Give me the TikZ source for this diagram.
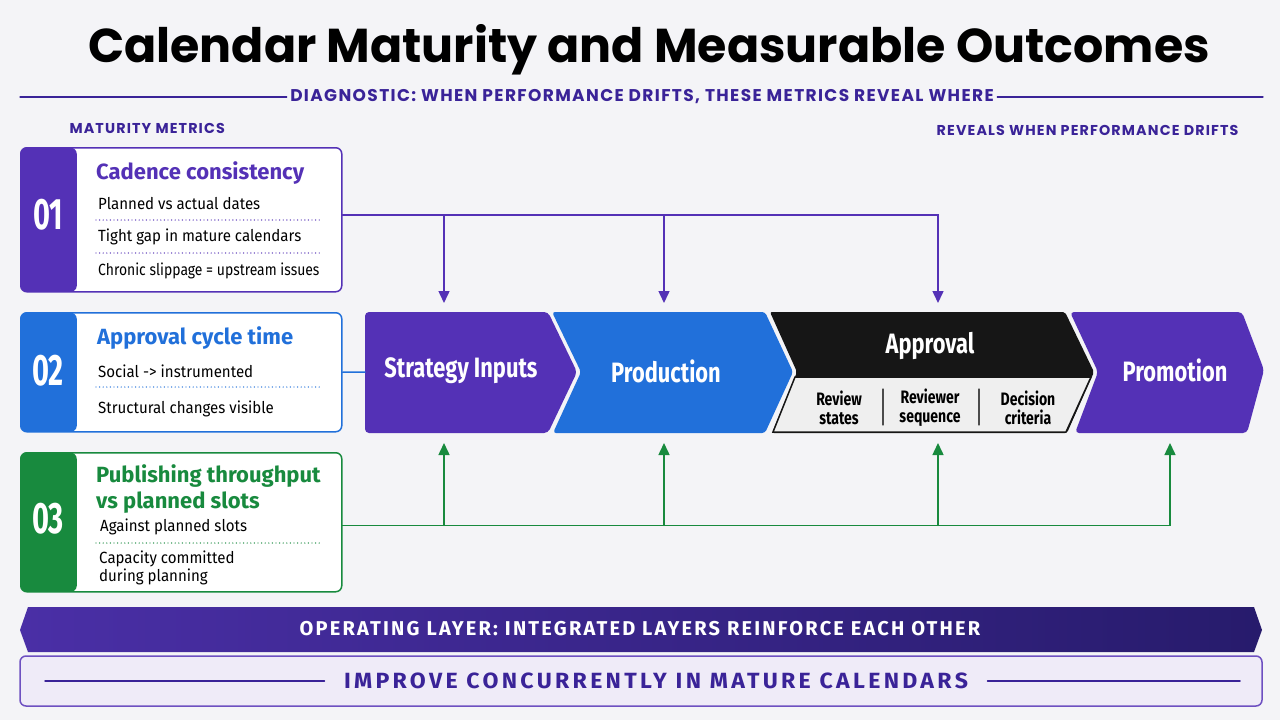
\documentclass[tikz,border=0pt]{standalone}
\usepackage{fontspec}
\setmainfont{Fira Sans}[FakeStretch=0.93]
\newfontfamily\headfont{Poppins}
\newfontfamily\capsfont{Poppins}[LetterSpace=8]
\newfontfamily\titlefont{Fira Sans}
\newfontfamily\condfont{Fira Sans}[FakeStretch=0.78]
\newfontfamily\numfont{Fira Sans}[FakeStretch=0.66]
\newfontfamily\tightfont{Fira Sans}[FakeStretch=0.86]
\newfontfamily\bandfont{Fira Sans}[FakeStretch=1.0, LetterSpace=11]
\newfontfamily\improvefont{Fira Sans}[FakeStretch=1.05, LetterSpace=15]
\usepackage{xcolor}
\usepackage{tikz}
\usetikzlibrary{arrows.meta, calc}
\definecolor{calBg}{HTML}{F4F4F7}
\definecolor{calPurple}{HTML}{5431B6}
\definecolor{calInk}{HTML}{3A2398}
\definecolor{calBlue}{HTML}{2170DA}
\definecolor{calGreen}{HTML}{188A3E}
\definecolor{calBlack}{HTML}{161616}
\definecolor{calGrey}{HTML}{EFEFEF}
\definecolor{calBandL}{HTML}{4A2FA6}
\definecolor{calBandR}{HTML}{271B6C}
\definecolor{calLilac}{HTML}{EFEBF8}

\begin{document}
\begin{tikzpicture}[x=1pt, y=-1pt, line cap=round,
  card/.style={draw=#1, fill=white, line width=1.5pt, rounded corners=6pt, anchor=north west,
    minimum width=321pt, inner sep=0pt,
    path picture={\fill[#1] (path picture bounding box.north west) rectangle ([xshift=56pt]path picture bounding box.south west);}},
  num/.style={text=white, font=\numfont\fontsize{44}{44}\selectfont\bfseries},
  cardtitle/.style={anchor=west, inner sep=0pt, font=\titlefont\fontsize{22}{26}\selectfont\bfseries},
  item/.style={anchor=west, inner sep=0pt, text=black, align=left, font=\fontsize{16.2}{18}\selectfont},
  sep/.style={line width=1.4pt, dash pattern=on 0pt off 3.6pt},
  stage/.style={text=white, font=\condfont\fontsize{28}{28}\selectfont\bfseries},
  sub/.style={text=black, align=center, font=\condfont\fontsize{18}{19}\selectfont\bfseries},
  bus/.style={line width=1.5pt},
  feed/.style={line width=1.5pt, ->, >={Triangle[width=11pt,length=12pt]}},
  label/.style={text=calInk, font=\capsfont\fontsize{14.3}{15}\selectfont\bfseries},
]
  \fill[calBg] (0,0) rectangle (1280,720);

  \node[font=\headfont\fontsize{47.5}{48}\selectfont\bfseries] (title) at (649,50) {Calendar Maturity and Measurable Outcomes};
  \node[label, font=\capsfont\fontsize{17}{17}\selectfont\bfseries] (diag) at (642,97) {DIAGNOSTIC: WHEN PERFORMANCE DRIFTS, THESE METRICS REVEAL WHERE};
  \draw[calInk, line width=1.3pt] (20,97) -- (diag.west);
  \draw[calInk, line width=1.3pt] (diag.east) -- (1263,97);
  \node[label, anchor=west] (matur) at (66,128) {MATURITY METRICS};
  \node[label, anchor=east] (reveal) at (1242,130) {REVEALS WHEN PERFORMANCE DRIFTS};

  % metric cards
  \node[card=calPurple, minimum height=144pt] (card1) at (20,147) {};
  \node[card=calBlue, minimum height=119pt] (card2) at (20,312) {};
  \node[card=calGreen, minimum height=139pt] (card3) at (20,452) {};
  \node[num] (n1) at (48,215) {01};
  \node[num] (n2) at (48,371) {02};
  \node[num] (n3) at (48,519) {03};

  \node[cardtitle, text=calPurple] (t1) at (96,173) {Cadence consistency};
  \node[item] (i1a) at (98,204) {Planned vs actual dates};
  \draw[sep, calPurple] (96,220) -- (322,220);
  \node[item] (i1b) at (98,237) {Tight gap in mature calendars};
  \draw[sep, calPurple] (96,253) -- (322,253);
  \node[item, font=\tightfont\fontsize{16.2}{18}\selectfont] (i1c) at (98,271) {Chronic slippage = upstream issues};

  \node[cardtitle, text=calBlue] (t2) at (97,338) {Approval cycle time};
  \node[item] (i2a) at (98,371) {Social -> instrumented};
  \draw[sep, calBlue] (96,387) -- (322,387);
  \node[item] (i2b) at (98,409) {Structural changes visible};

  \node[cardtitle, text=calGreen, align=left] (t3) at (96,489) {Publishing throughput\\vs planned slots};
  \node[item] (i3a) at (100,527) {Against planned slots};
  \draw[sep, calGreen] (96,543) -- (322,543);
  \node[item, font=\fontsize{16.2}{18.5}\selectfont] (i3b) at (99,568) {Capacity committed\\during planning};

  % workflow stages
  \fill[calPurple, rounded corners=4pt] (365,312) -- (548,312) -- (577,372) -- (548,433) -- (365,433) -- cycle;
  \fill[calBlue, rounded corners=3pt] (552,312) -- (765,312) -- (793,372) -- (765,433) -- (553,433) -- (581,372) -- cycle;
  \fill[calBlack, rounded corners=2pt] (770,312) -- (1065,312) -- (1094,372) -- (1067,433) -- (772,433) -- (797,372) -- cycle;
  \filldraw[fill=calGrey, draw=calBlack, line width=1.5pt] (795,377) -- (1091,377) -- (1066,432) -- (773,432) -- cycle;
  \draw[gray!60!black, line width=1.3pt] (883,389) -- (883,425);
  \draw[gray!60!black, line width=1.3pt] (979,389) -- (979,425);
  \fill[calPurple, rounded corners=4pt] (1070,312) -- (1242,312) -- (1264,370) -- (1247,433) -- (1075,433) -- (1098,372) -- cycle;

  \node[stage] (strat) at (461,371) {Strategy Inputs};
  \node[stage] (prod) at (666,371) {Production};
  \node[stage] (appr) at (930,346) {Approval};
  \node[stage] (promo) at (1175,370) {Promotion};
  \node[sub] (rstate) at (839,408) {Review\\states};
  \node[sub] (rseq) at (930,408) {Reviewer\\sequence};
  \node[sub] (dcrit) at (1028,408) {Decision\\criteria};

  % connectors
  \coordinate (busP) at ([yshift=5pt]card1.east);
  \coordinate (dnA) at (444,303);
  \coordinate (dnB) at (664,303);
  \coordinate (dnC) at (938,303);
  \draw[feed, calPurple] (busP) -| (dnC);
  \draw[feed, calPurple] (dnA |- busP) -- (dnA);
  \draw[feed, calPurple] (dnB |- busP) -- (dnB);

  \coordinate (stratIn) at (365,372);
  \draw[bus, calBlue] (card2.east) -- (stratIn);

  \coordinate (busG) at ([yshift=-3pt]card3.east);
  \coordinate (upA) at (444,443);
  \coordinate (upB) at (664,443);
  \coordinate (upC) at (938,443);
  \coordinate (upD) at (1170,443);
  \draw[feed, calGreen] (busG) -| (upD);
  \draw[feed, calGreen] (upA |- busG) -- (upA);
  \draw[feed, calGreen] (upB |- busG) -- (upB);
  \draw[feed, calGreen] (upC |- busG) -- (upC);

  % operating layer
  \shade[left color=calBandL, right color=calBandR] (20,630) -- (28,607) -- (1254,607) -- (1262,630) -- (1254,652) -- (28,652) -- cycle;
  \node[text=white, font=\bandfont\fontsize{20}{20}\selectfont\bfseries] (band) at (640,629) {OPERATING LAYER: INTEGRATED LAYERS REINFORCE EACH OTHER};

  \draw[fill=calLilac, draw=calPurple!85, line width=1.5pt, rounded corners=6pt] (20,656) rectangle (1262,706);
  \node[text=calInk, font=\improvefont\fontsize{22}{22}\selectfont\bfseries] (concur) at (656,681) {IMPROVE CONCURRENTLY IN MATURE CALENDARS};
  \draw[calInk, line width=1.5pt] (45,681) -- ([xshift=-16pt]concur.west);
  \draw[calInk, line width=1.5pt] ([xshift=16pt]concur.east) -- (1240,681);
\end{tikzpicture}
\end{document}
